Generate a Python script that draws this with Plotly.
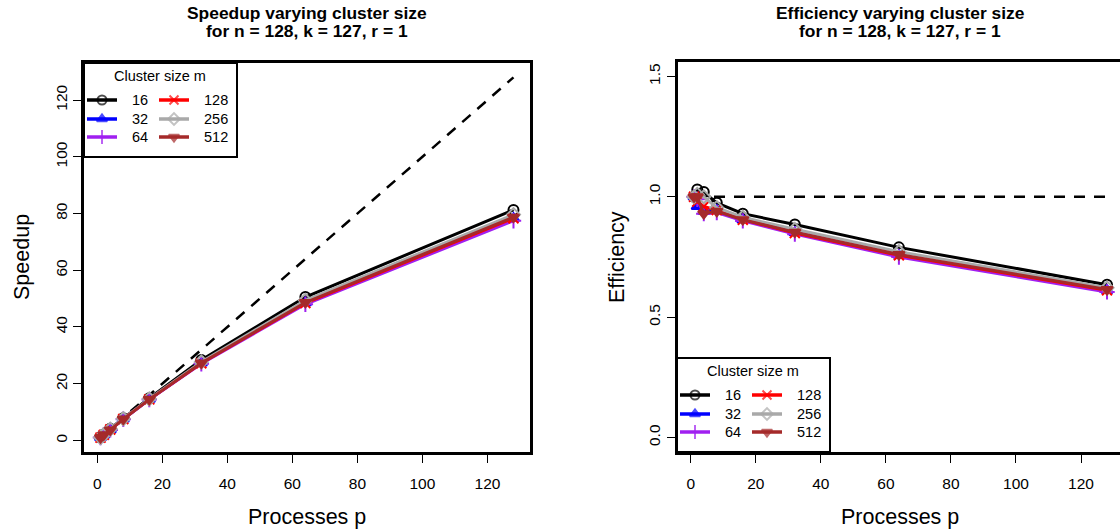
import plotly.graph_objects as go

# ---------------- data ----------------
processes = [1, 2, 4, 8, 16, 32, 64, 128]
cluster_sizes = ["16", "32", "64", "128", "256", "512"]
speedup_m16 = [1.0, 2.06, 4.08, 7.80, 14.88, 28.32, 50.56, 81.28]
speedup_m32 = [1.0, 1.92, 3.76, 7.56, 14.48, 27.26, 48.51, 78.34]
speedup_m64 = [1.0, 1.98, 3.72, 7.48, 14.40, 27.04, 48.00, 77.44]
speedup_m128 = [1.0, 1.96, 3.84, 7.56, 14.48, 27.20, 48.45, 78.34]
speedup_m256 = [1.0, 2.02, 4.00, 7.64, 14.64, 27.68, 49.41, 79.62]
speedup_m512 = [1.0, 2.00, 3.72, 7.52, 14.48, 27.30, 48.64, 78.72]
speedups = [speedup_m16, speedup_m32, speedup_m64, speedup_m128, speedup_m256, speedup_m512]
ideal_speedup = processes
ideal_efficiency = [1.0] * len(processes)
x_ticks = [0, 20, 40, 60, 80, 100, 120]
y_ticks_speedup = [0, 20, 40, 60, 80, 100, 120]
y_ticks_eff = [0.0, 0.5, 1.0, 1.5]
titles_left = ["Speedup varying cluster size", "for n = 128, k = 127, r = 1"]
titles_right = ["Efficiency varying cluster size", "for n = 128, k = 127, r = 1"]

# ---------------- style ----------------
colors = ["#000000", "#0000FF", "#A020F0", "#FF0000", "#A9A9A9", "#A52A2A"]
symbols = ["circle-open", "triangle-up", "cross-thin-open", "x-thin-open", "diamond-open", "triangle-down"]
msizes = [10, 10, 11, 10, 10, 10]
FONT = "Liberation Sans, Arial, Helvetica, sans-serif"
W, H = 1120, 531


def px(x):
    return x / W


def py(y):
    return 1 - y / H


fig = go.Figure()

# ideal lines
fig.add_trace(go.Scatter(x=processes, y=ideal_speedup, mode="lines",
                         line=dict(color="black", width=2.5, dash="11px,9px"),
                         xaxis="x", yaxis="y", showlegend=False, hoverinfo="skip"))
fig.add_trace(go.Scatter(x=processes, y=ideal_efficiency, mode="lines",
                         line=dict(color="black", width=2.5, dash="11px,9px"),
                         xaxis="x2", yaxis="y2", showlegend=False, hoverinfo="skip"))

for i, m in enumerate(cluster_sizes):
    s = speedups[i]
    eff = [v / p for v, p in zip(s, processes)]
    mk = dict(symbol=symbols[i], size=msizes[i], color=colors[i],
              line=dict(color=colors[i], width=2))
    fig.add_trace(go.Scatter(x=processes, y=s, mode="lines+markers", name=m,
                             line=dict(color=colors[i], width=3), marker=mk,
                             xaxis="x", yaxis="y", showlegend=False))
    fig.add_trace(go.Scatter(x=processes, y=eff, mode="lines+markers", name=m,
                             line=dict(color=colors[i], width=3), marker=mk,
                             xaxis="x2", yaxis="y2", showlegend=False))

# ---------------- custom R-style legends (pixel overlay axis) ----------------
shapes = []
annotations = []


def add_legend(bx, by):
    bw, bh = 153, 94
    shapes.append(dict(type="rect", xref="paper", yref="paper",
                       x0=px(bx), x1=px(bx + bw), y0=py(by + bh), y1=py(by),
                       line=dict(color="black", width=2), fillcolor="rgba(0,0,0,0)", layer="above"))
    annotations.append(dict(x=px(bx + 76), y=py(by + 13), xref="paper", yref="paper",
                            text="Cluster size m", showarrow=False, xanchor="center", yanchor="middle",
                            font=dict(family=FONT, size=14.5, color="black")))
    rows = [37, 56, 74]
    for i, m in enumerate(cluster_sizes):
        col = i // 3
        row = i % 3
        x0 = bx + (3 if col == 0 else 75)
        ly = by + rows[row]
        fig.add_trace(go.Scatter(
            x=[x0, x0 + 15, x0 + 30], y=[ly] * 3, mode="lines+markers",
            line=dict(color=colors[i], width=3.5),
            marker=dict(symbol=symbols[i], size=[0, msizes[i] - 1, 0], color=colors[i],
                        line=dict(color=colors[i], width=2)),
            xaxis="x3", yaxis="y3", showlegend=False, hoverinfo="skip"))
        annotations.append(dict(x=px(bx + (46 if col == 0 else 118)), y=py(ly), xref="paper", yref="paper",
                                text=m, showarrow=False, xanchor="left", yanchor="middle",
                                font=dict(family=FONT, size=14.5, color="black")))


add_legend(84, 63)
add_legend(677, 358)

# titles and axis titles
for cx, lines in [(307, titles_left), (900, titles_right)]:
    for ty, t in zip((12.5, 30.5), lines):
        annotations.append(dict(x=px(cx), y=py(ty), xref="paper", yref="paper", text="<b>%s</b>" % t,
                                showarrow=False, xanchor="center", yanchor="middle",
                                font=dict(family=FONT, size=17.4, color="black")))
for cx in (307, 900):
    annotations.append(dict(x=px(cx), y=py(517), xref="paper", yref="paper", text="Processes p",
                            showarrow=False, xanchor="center", yanchor="middle",
                            font=dict(family=FONT, size=21.5, color="black")))
annotations.append(dict(x=px(22), y=py(257), xref="paper", yref="paper", text="Speedup",
                        showarrow=False, textangle=-90, xanchor="center", yanchor="middle",
                        font=dict(family=FONT, size=21.5, color="black")))
annotations.append(dict(x=px(617), y=py(257), xref="paper", yref="paper", text="Efficiency",
                        showarrow=False, textangle=-90, xanchor="center", yanchor="middle",
                        font=dict(family=FONT, size=21.5, color="black")))

lo, hi = -4.08, 133.08
axis_common = dict(showgrid=False, zeroline=False, showline=True, linewidth=3, linecolor="black",
                   ticks="outside", ticklen=8, tickwidth=1, tickcolor="black",
                   tickfont=dict(family=FONT, size=15.5, color="black"), automargin=False)

fig.update_layout(
    width=W, height=H, margin=dict(l=0, r=0, t=0, b=0),
    paper_bgcolor="white", plot_bgcolor="rgba(0,0,0,0)", showlegend=False,
    xaxis=dict(domain=[px(84), px(530)], range=[lo, hi], tickvals=x_ticks, mirror=True,
               anchor="y", ticklabelstandoff=7, **axis_common),
    yaxis=dict(domain=[py(452), py(63)], range=[lo, hi], tickvals=y_ticks_speedup, mirror=True,
               anchor="x", tickangle=-90, ticklabelstandoff=0, **axis_common),
    xaxis2=dict(domain=[px(677.5), 1.0], range=[lo, lo + (1120 - 677.5) / 3.252], tickvals=x_ticks,
                mirror=True, anchor="y2", ticklabelstandoff=7, **axis_common),
    yaxis2=dict(domain=[py(452), py(62)], range=[-0.06, 1.56], tickvals=y_ticks_eff, tickformat=".1f",
                mirror=False, anchor="x2", tickangle=-90, ticklabelstandoff=0, **axis_common),
    xaxis3=dict(domain=[0, 1], range=[0, W], visible=False, anchor="y3", fixedrange=True),
    yaxis3=dict(domain=[0, 1], range=[H, 0], visible=False, anchor="x3", fixedrange=True),
    shapes=shapes, annotations=annotations,
)

fig.write_html("out.html", config={"displayModeBar": False},
               post_script="document.body.style.margin='0px';")
